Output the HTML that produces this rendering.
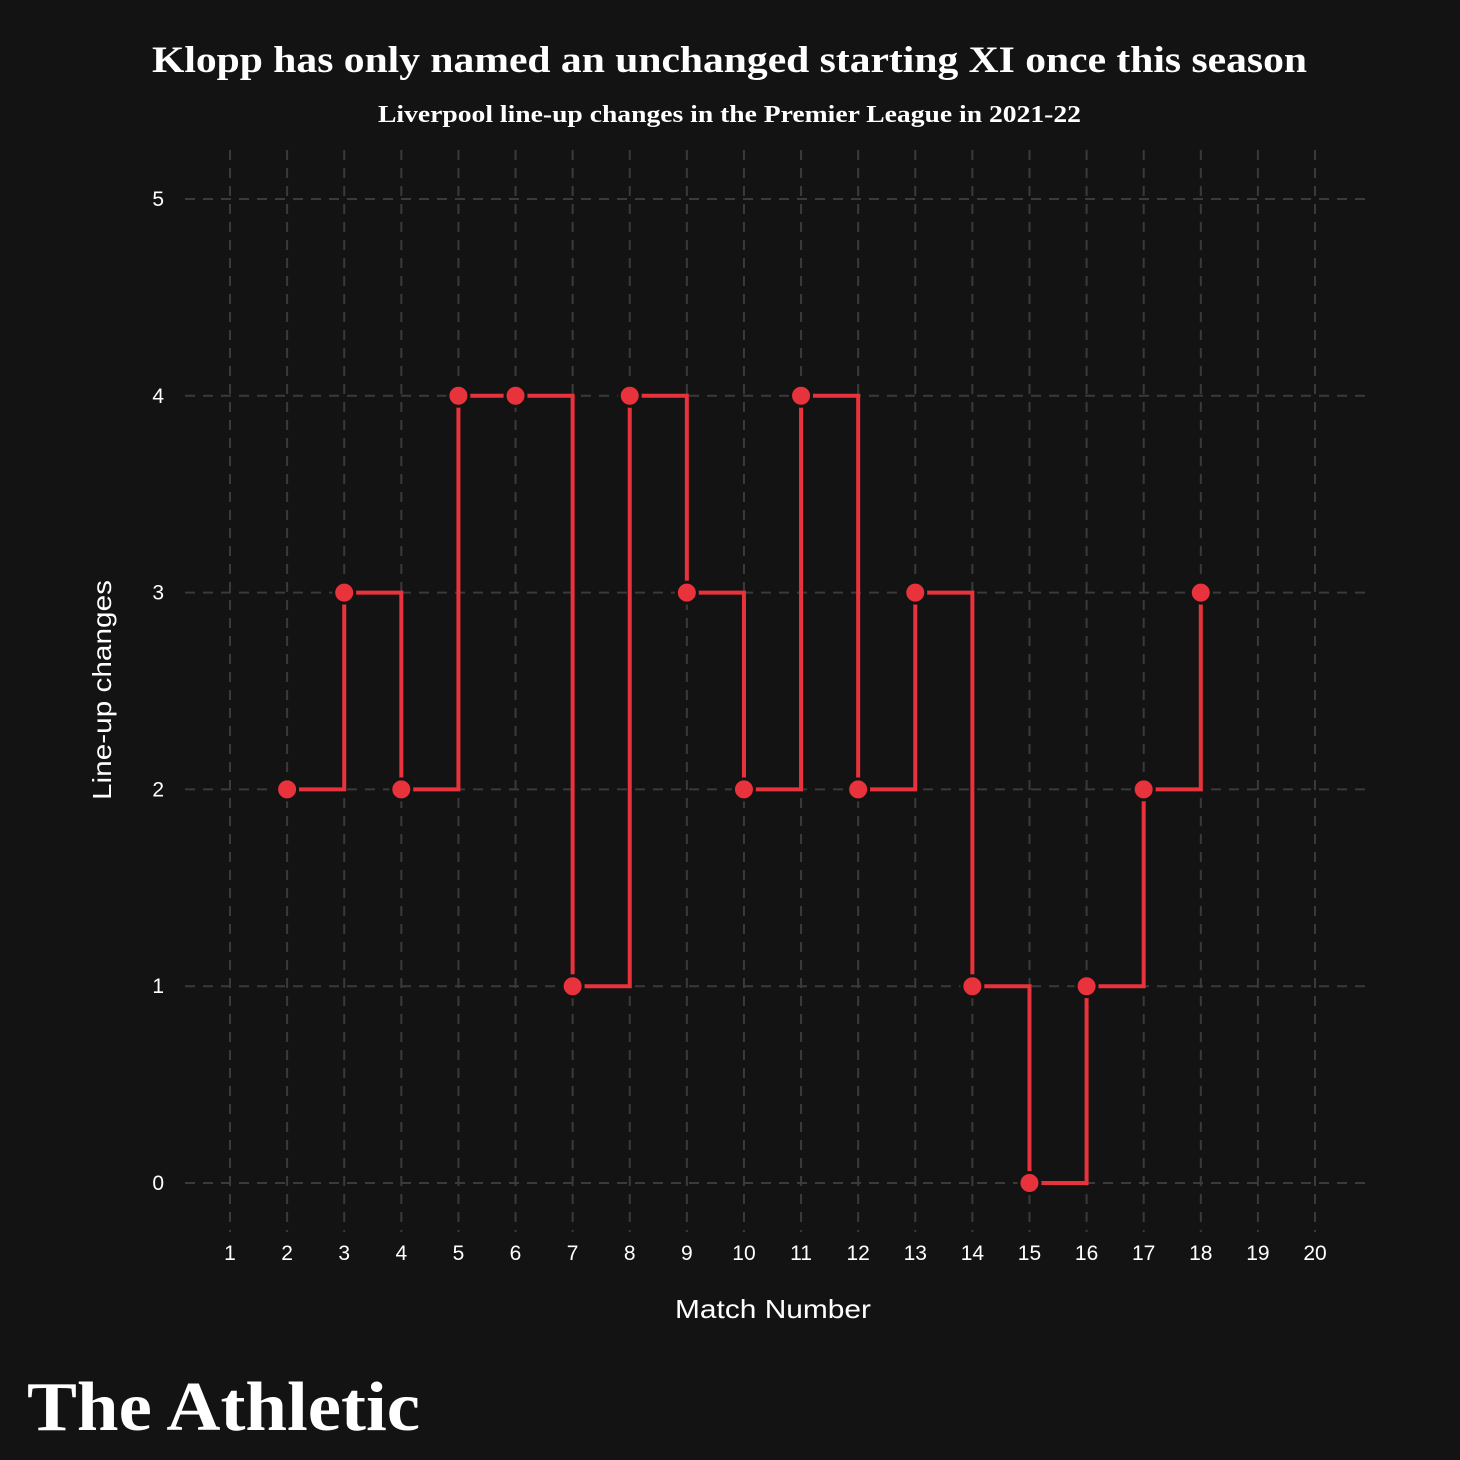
<!DOCTYPE html>
<html><head><meta charset="utf-8"><style>
body{margin:0;background:#131313;width:1460px;height:1460px;overflow:hidden}
svg{display:block}
</style></head><body>
<svg id="chart" width="1460" height="1460">
<rect width="1460" height="1460" fill="#131313"/>
<text x="152" y="72" textLength="1155" lengthAdjust="spacingAndGlyphs" fill="#fff" font-family="Liberation Serif, serif" font-weight="bold" font-size="37">Klopp has only named an unchanged starting XI once this season</text>
<text x="378" y="122" textLength="703" lengthAdjust="spacingAndGlyphs" fill="#fff" font-family="Liberation Serif, serif" font-weight="bold" font-size="24">Liverpool line-up changes in the Premier League in 2021-22</text>
<g id="grid"></g>
<g id="ticks"></g>
<g id="series"></g>
<text x="675" y="1318" textLength="196" lengthAdjust="spacingAndGlyphs" fill="#fff" font-family="Liberation Sans, sans-serif" font-size="26">Match Number</text>
<text transform="translate(111,800) rotate(-90)" textLength="220" lengthAdjust="spacingAndGlyphs" fill="#fff" font-family="Liberation Sans, sans-serif" font-size="26">Line-up changes</text>
<text x="27" y="1430" textLength="393" lengthAdjust="spacingAndGlyphs" fill="#fff" font-family="Liberation Serif, serif" font-weight="bold" font-size="70">The Athletic</text>
</svg>
<script>
const xTicks=[1,2,3,4,5,6,7,8,9,10,11,12,13,14,15,16,17,18,19,20];
const yTicks=[0,1,2,3,4,5];
const matches=[2,3,4,5,6,7,8,9,10,11,12,13,14,15,16,17,18];
const changes=[2,3,2,4,4,1,4,3,2,4,2,3,1,0,1,2,3];
const NS='http://www.w3.org/2000/svg';
const xs=m=>230+(m-1)*(1315-230)/19;
const ys=v=>1183-v*(1183-199)/5;
function mk(tag,attrs,parent){const e=document.createElementNS(NS,tag);for(const k in attrs)e.setAttribute(k,attrs[k]);parent.appendChild(e);return e;}
const grid=document.getElementById('grid'),ticks=document.getElementById('ticks'),series=document.getElementById('series');
xTicks.forEach(t=>{
  const l=mk('line',{x1:xs(t),x2:xs(t),y1:150,y2:1232,stroke:'#3a3a3a','stroke-width':2,'stroke-dasharray':'10 8'},grid);
  
  
  const tx=mk('text',{x:xs(t),y:1260,'text-anchor':'middle',fill:'#fff','font-family':'Liberation Sans, sans-serif','font-size':21},ticks);
  tx.textContent=t;
  
  
});
yTicks.forEach(t=>{
  const l=mk('line',{x1:185,x2:1370,y1:ys(t),y2:ys(t),stroke:'#3a3a3a','stroke-width':2,'stroke-dasharray':'10 8'},grid);
  
  
  const tx=mk('text',{x:164,y:ys(t)+7,'text-anchor':'end',fill:'#fff','font-family':'Liberation Sans, sans-serif','font-size':21},ticks);
  tx.textContent=t;
  
  
});
let d='M'+xs(matches[0])+','+ys(changes[0]);
for(let i=1;i<matches.length;i++){d+=' H'+xs(matches[i])+' V'+ys(changes[i]);}
const p=mk('path',{d:d,fill:'none',stroke:'#e8323c','stroke-width':4},series);


matches.forEach((m,i)=>{
  const c=mk('circle',{cx:xs(m),cy:ys(changes[i]),r:10.5,fill:'#e8323c',stroke:'#131313','stroke-width':3},series);
  
  
});
</script>
</body></html>
